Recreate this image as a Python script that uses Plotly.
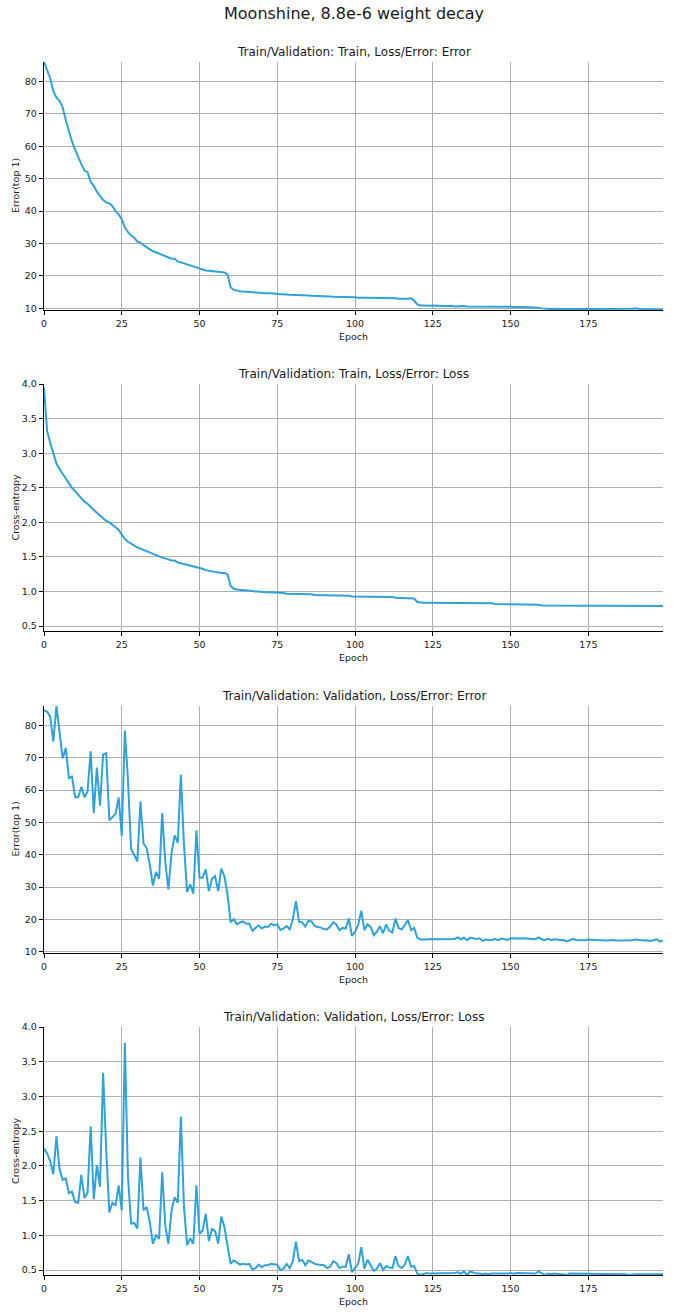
import plotly.graph_objects as go

epochs = list(range(200))

train_error = [
    86.0, 83.5, 81.0, 77.0, 75.0, 74.0, 72.0, 68.0, 64.5, 61.5,
    59.0, 56.5, 54.5, 52.5, 52.0, 49.0, 47.8, 46.0, 44.8, 43.5,
    42.7, 42.4, 41.5, 40.0, 39.0, 37.5, 35.0, 33.5, 32.5, 31.8,
    30.6, 30.3, 29.5, 28.8, 28.2, 27.7, 27.3, 26.9, 26.4, 26.0,
    25.6, 25.3, 25.3, 24.4, 24.2, 23.9, 23.4, 23.2, 22.9, 22.6,
    22.2, 22.0, 21.7, 21.6, 21.5, 21.4, 21.2, 21.0, 21.1, 20.5,
    16.5, 15.7, 15.4, 15.3, 15.2, 15.1, 15.0, 15.0, 14.8, 14.8,
    14.8, 14.7, 14.7, 14.7, 14.6, 14.4, 14.4, 14.5, 14.3, 14.2,
    14.2, 14.1, 14.1, 14.0, 14.0, 14.0, 13.9, 13.9, 13.8, 13.9,
    13.7, 13.7, 13.7, 13.6, 13.6, 13.6, 13.5, 13.5, 13.5, 13.4,
    13.4, 13.3, 13.4, 13.3, 13.3, 13.3, 13.2, 13.2, 13.2, 13.2,
    13.1, 13.1, 13.1, 13.1, 13.0, 13.0, 12.8, 13.0, 13.1, 12.4,
    11.2, 10.9, 10.9, 10.8, 10.8, 10.9, 10.8, 10.7, 10.7, 10.7,
    10.7, 10.8, 10.6, 10.7, 10.6, 10.7, 10.6, 10.6, 10.6, 10.7,
    10.6, 10.6, 10.6, 10.5, 10.6, 10.5, 10.5, 10.6, 10.5, 10.5,
    10.5, 10.4, 10.5, 10.4, 10.4, 10.4, 10.4, 10.3, 10.3, 10.2,
    10.0, 9.9, 9.9, 9.8, 9.9, 9.8, 9.9, 9.8, 9.8, 9.9,
    9.8, 9.8, 9.8, 9.7, 9.9, 9.8, 9.8, 9.7, 9.8, 9.8,
    9.8, 9.8, 9.8, 9.8, 9.9, 9.8, 9.8, 9.8, 9.9, 9.9,
    10.0, 9.8, 9.7, 9.7, 9.7, 9.7, 9.7, 9.7, 9.7, 9.6,
]

train_loss = [
    3.95, 3.32, 3.15, 2.98, 2.85, 2.77, 2.70, 2.63, 2.56, 2.50,
    2.45, 2.40, 2.35, 2.30, 2.27, 2.22, 2.18, 2.14, 2.10, 2.06,
    2.02, 2.00, 1.97, 1.93, 1.89, 1.83, 1.76, 1.72, 1.69, 1.67,
    1.64, 1.62, 1.60, 1.58, 1.56, 1.54, 1.53, 1.51, 1.49, 1.48,
    1.46, 1.45, 1.45, 1.42, 1.41, 1.40, 1.38, 1.37, 1.36, 1.35,
    1.34, 1.33, 1.31, 1.30, 1.30, 1.29, 1.28, 1.27, 1.27, 1.25,
    1.08, 1.04, 1.03, 1.02, 1.02, 1.02, 1.01, 1.01, 1.00, 1.00,
    0.99, 0.99, 0.99, 0.99, 0.98, 0.98, 0.98, 0.98, 0.97, 0.97,
    0.97, 0.97, 0.96, 0.96, 0.96, 0.96, 0.96, 0.95, 0.95, 0.95,
    0.95, 0.95, 0.95, 0.94, 0.94, 0.94, 0.94, 0.94, 0.94, 0.93,
    0.93, 0.93, 0.93, 0.93, 0.93, 0.93, 0.92, 0.92, 0.92, 0.92,
    0.92, 0.92, 0.92, 0.91, 0.91, 0.91, 0.91, 0.91, 0.91, 0.90,
    0.85, 0.84, 0.84, 0.84, 0.84, 0.84, 0.83, 0.83, 0.83, 0.83,
    0.83, 0.83, 0.83, 0.83, 0.83, 0.83, 0.83, 0.83, 0.83, 0.83,
    0.83, 0.83, 0.83, 0.83, 0.83, 0.82, 0.82, 0.82, 0.82, 0.82,
    0.82, 0.82, 0.82, 0.82, 0.82, 0.82, 0.82, 0.82, 0.82, 0.81,
    0.80, 0.80, 0.79, 0.79, 0.79, 0.79, 0.79, 0.79, 0.79, 0.79,
    0.79, 0.79, 0.79, 0.79, 0.79, 0.79, 0.79, 0.79, 0.79, 0.79,
    0.79, 0.79, 0.79, 0.79, 0.79, 0.79, 0.79, 0.79, 0.79, 0.79,
    0.79, 0.79, 0.79, 0.79, 0.79, 0.79, 0.79, 0.79, 0.79, 0.79,
]

val_error = [
    84.7, 84.2, 82.7, 75.0, 86.0, 78.6, 69.8, 73.0, 63.7, 64.2,
    57.8, 57.8, 61.0, 57.8, 59.6, 72.0, 52.9, 67.0, 55.2, 71.0,
    71.4, 50.7, 51.6, 52.6, 57.7, 45.9, 78.4, 63.2, 41.8, 39.8,
    38.0, 56.5, 43.5, 42.1, 37.0, 30.5, 34.7, 32.6, 52.9, 37.7,
    29.3, 40.6, 46.0, 43.7, 64.7, 43.1, 28.5, 30.9, 28.0, 47.6,
    32.9, 32.9, 35.5, 28.8, 32.6, 33.4, 28.8, 35.7, 33.4, 27.8,
    19.1, 20.1, 18.5, 19.1, 19.4, 18.7, 18.7, 16.5, 17.5, 18.2,
    17.2, 17.8, 17.7, 18.7, 18.2, 18.5, 16.8, 17.2, 18.0, 17.0,
    20.1, 25.7, 19.3, 19.1, 17.8, 19.6, 19.4, 18.0, 17.7, 17.5,
    17.0, 17.0, 17.8, 19.2, 18.4, 16.7, 17.4, 17.2, 20.3, 14.9,
    16.2, 18.3, 22.7, 16.7, 18.5, 17.7, 15.2, 16.2, 17.9, 15.7,
    18.5, 16.5, 16.0, 20.3, 17.4, 16.9, 18.3, 19.8, 16.7, 17.4,
    14.4, 13.8, 13.8, 13.9, 13.9, 14.0, 13.9, 13.9, 13.8, 13.9,
    13.9, 13.9, 14.0, 14.5, 13.9, 14.4, 13.6, 14.4, 14.1, 14.0,
    14.2, 13.4, 13.8, 13.7, 13.6, 14.0, 13.6, 14.1, 13.8, 13.7,
    14.2, 14.1, 14.1, 14.1, 14.2, 14.1, 14.2, 14.0, 13.9, 14.5,
    13.9, 13.6, 14.1, 13.6, 13.9, 13.8, 13.6, 13.7, 13.2, 13.6,
    14.0, 13.7, 13.6, 13.6, 13.6, 13.8, 13.7, 13.5, 13.6, 13.6,
    13.5, 13.5, 13.6, 13.7, 13.5, 13.5, 13.4, 13.4, 13.5, 13.6,
    13.8, 13.6, 13.6, 13.5, 13.6, 13.4, 13.6, 13.9, 13.2, 13.5,
]

val_loss = [
    2.25, 2.18, 2.07, 1.88, 2.43, 1.95, 1.80, 1.82, 1.61, 1.63,
    1.48, 1.47, 1.87, 1.54, 1.61, 2.57, 1.52, 2.01, 1.70, 3.34,
    2.23, 1.33, 1.47, 1.43, 1.72, 1.36, 3.77, 1.84, 1.17, 1.18,
    1.10, 2.12, 1.36, 1.41, 1.19, 0.88, 1.01, 0.95, 1.91, 1.14,
    0.88, 1.36, 1.55, 1.47, 2.71, 1.41, 0.86, 0.96, 0.88, 1.72,
    1.02, 1.07, 1.31, 0.92, 1.09, 1.06, 0.88, 1.27, 1.12, 0.88,
    0.59, 0.64, 0.61, 0.58, 0.59, 0.58, 0.59, 0.51, 0.53, 0.58,
    0.54, 0.57, 0.57, 0.59, 0.58, 0.58, 0.50, 0.52, 0.59, 0.53,
    0.63, 0.91, 0.63, 0.65, 0.57, 0.64, 0.62, 0.59, 0.58, 0.57,
    0.57, 0.53, 0.55, 0.63, 0.60, 0.53, 0.55, 0.55, 0.73, 0.47,
    0.53, 0.59, 0.83, 0.52, 0.65, 0.58, 0.49, 0.52, 0.60, 0.50,
    0.56, 0.54, 0.53, 0.70, 0.56, 0.53, 0.58, 0.70, 0.55, 0.56,
    0.45, 0.43, 0.44, 0.46, 0.45, 0.45, 0.45, 0.45, 0.45, 0.45,
    0.45, 0.46, 0.46, 0.47, 0.45, 0.48, 0.43, 0.48, 0.46, 0.45,
    0.45, 0.44, 0.45, 0.44, 0.45, 0.45, 0.44, 0.45, 0.45, 0.45,
    0.46, 0.45, 0.46, 0.46, 0.46, 0.45, 0.45, 0.45, 0.45, 0.48,
    0.45, 0.43, 0.45, 0.44, 0.45, 0.44, 0.44, 0.44, 0.43, 0.45,
    0.45, 0.44, 0.44, 0.44, 0.44, 0.45, 0.44, 0.44, 0.44, 0.44,
    0.44, 0.44, 0.44, 0.44, 0.44, 0.44, 0.44, 0.44, 0.43, 0.44,
    0.44, 0.44, 0.44, 0.44, 0.44, 0.44, 0.44, 0.44, 0.44, 0.44,
]

suptitle = "Moonshine, 8.8e-6 weight decay"
panel_titles = [
    "Train/Validation: Train, Loss/Error: Error",
    "Train/Validation: Train, Loss/Error: Loss",
    "Train/Validation: Validation, Loss/Error: Error",
    "Train/Validation: Validation, Loss/Error: Loss",
]
y_titles = ["Error(top 1)", "Cross-entropy", "Error(top 1)", "Cross-entropy"]
x_title = "Epoch"
x_ticks = [0, 25, 50, 75, 100, 125, 150, 175]

series = [train_error, train_loss, val_error, val_loss]
y_ranges = [[9.5, 86.0], [0.43, 4.0], [9.65, 86.0], [0.43, 4.0]]
y_dticks = [10, 0.5, 10, 0.5]
y_formats = ["d", ".1f", "d", ".1f"]

W, H = 673, 1313
ML, MR = 44, 10
# pixel top/bottom of each plot area
panels_px = [(62, 310), (384, 631), (706, 953), (1027, 1275)]

LINE = "#30a2da"
GRID = "#b0b0b0"
FONT = "DejaVu Sans"
TXT = "#1a1a1a"

fig = go.Figure()
layout = dict(
    template="none",
    width=W, height=H, autosize=False,
    margin=dict(l=ML, r=MR, t=0, b=0, pad=0),
    paper_bgcolor="white", plot_bgcolor="white",
    showlegend=False,
    font=dict(family=FONT, color=TXT, size=10),
)
annotations = []

def py(px):
    return 1 - px / H

def px_x(px):
    return (px - ML) / (W - ML - MR)

for i, (vals, (top, bot)) in enumerate(zip(series, panels_px)):
    n = i + 1
    xa = "x" if n == 1 else f"x{n}"
    ya = "y" if n == 1 else f"y{n}"
    fig.add_trace(go.Scatter(
        x=epochs, y=vals, mode="lines",
        line=dict(color=LINE, width=2),
        xaxis=xa, yaxis=ya, hoverinfo="skip",
    ))
    xkey = "xaxis" if n == 1 else f"xaxis{n}"
    ykey = "yaxis" if n == 1 else f"yaxis{n}"
    layout[xkey] = dict(
        domain=[0, 1], anchor=ya, range=[0, 199], automargin=False,
        tickmode="array", tickvals=x_ticks,
        showgrid=True, gridcolor=GRID, gridwidth=1,
        showline=True, linecolor="black", linewidth=1.2,
        ticks="outside", ticklen=4, tickwidth=1, tickcolor="black",
        tickfont=dict(size=9.5, family=FONT, color=TXT),
        zeroline=False, fixedrange=True,
    )
    layout[ykey] = dict(
        domain=[py(bot), py(top)], anchor=xa, range=y_ranges[i],
        automargin=False,
        dtick=y_dticks[i], tick0=0, tickformat=y_formats[i],
        showgrid=True, gridcolor=GRID, gridwidth=1,
        showline=True, linecolor="black", linewidth=1.2,
        ticks="outside", ticklen=4, tickwidth=1, tickcolor="black",
        tickfont=dict(size=9.5, family=FONT, color=TXT),
        zeroline=False, fixedrange=True,
    )
    annotations.append(dict(
        text=panel_titles[i], xref="paper", yref="paper",
        x=0.5, y=py(top - 10), xanchor="center", yanchor="middle",
        showarrow=False, font=dict(size=12, family=FONT, color=TXT),
    ))
    annotations.append(dict(
        text=y_titles[i], xref="paper", yref="paper",
        x=px_x(15), y=py((top + bot) / 2), xanchor="center", yanchor="middle",
        textangle=-90, showarrow=False,
        font=dict(size=9.5, family=FONT, color=TXT),
    ))
    annotations.append(dict(
        text=x_title, xref="paper", yref="paper",
        x=0.5, y=py(bot + 26), xanchor="center", yanchor="middle",
        showarrow=False, font=dict(size=9.5, family=FONT, color=TXT),
    ))

annotations.append(dict(
    text=suptitle, xref="paper", yref="paper",
    x=0.5, y=py(14), xanchor="center", yanchor="middle",
    showarrow=False, font=dict(size=16, family=FONT, color=TXT),
))
layout["annotations"] = annotations
fig.update_layout(**layout)
fig.write_html(
    "out.html",
    config={"displayModeBar": False, "staticPlot": True},
    post_script="document.body.style.margin='0';document.body.style.overflow='hidden';",
)
